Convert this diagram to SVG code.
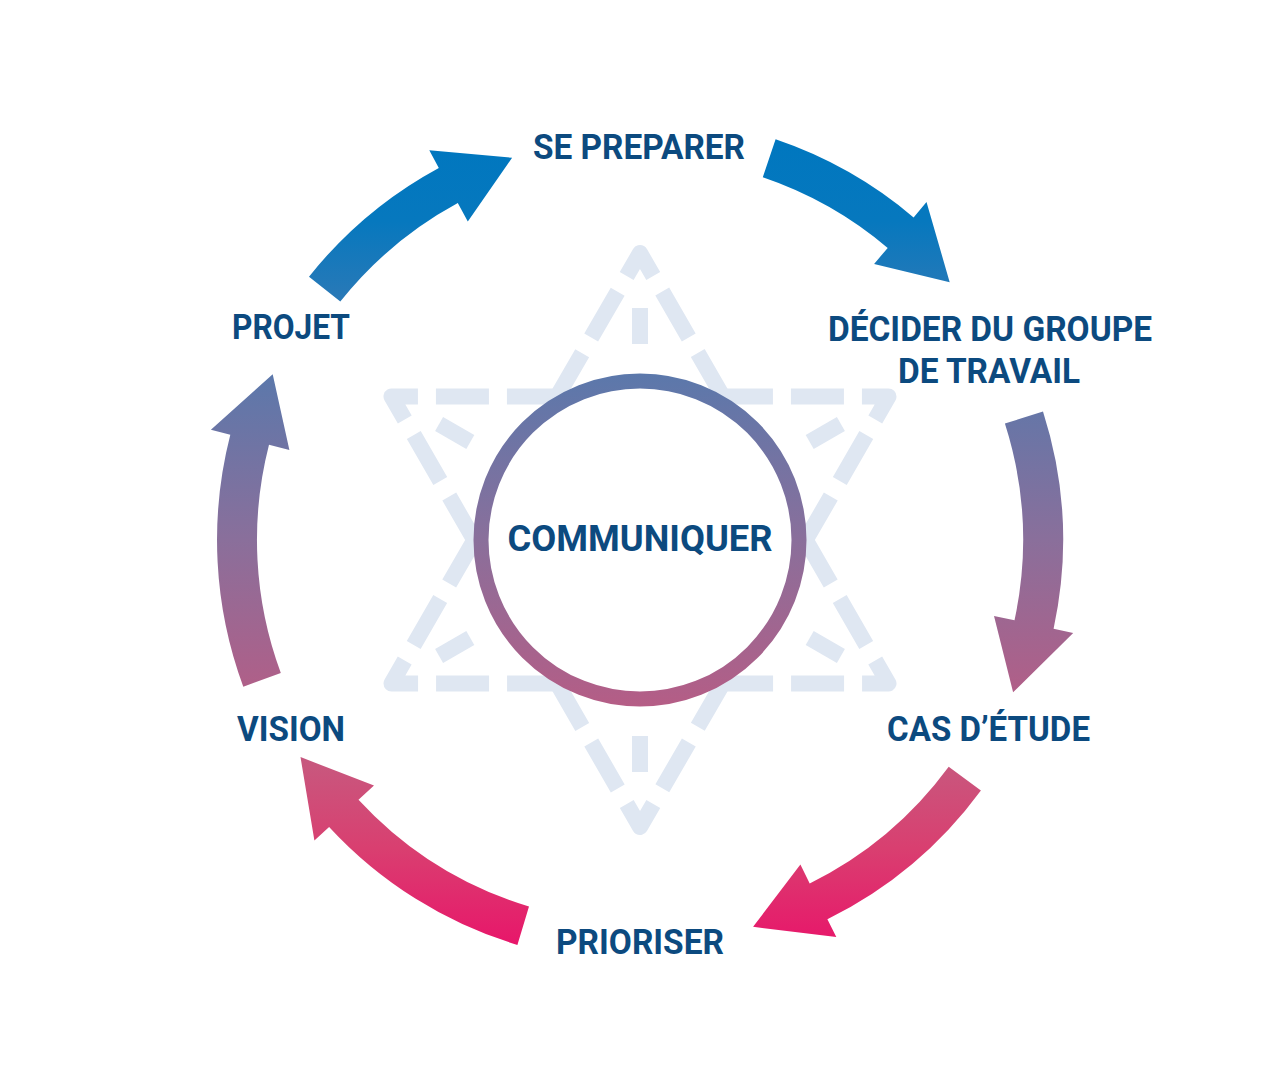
<svg xmlns="http://www.w3.org/2000/svg" width="1280" height="1080" viewBox="0 0 1280 1080">
  <defs>
    <linearGradient id="g" gradientUnits="userSpaceOnUse" x1="0" y1="140" x2="0" y2="945">
      <stop offset="0" stop-color="#0077bf"/>
      <stop offset="0.1" stop-color="#0678be"/>
      <stop offset="0.2" stop-color="#2a79b7"/>
      <stop offset="0.29" stop-color="#5b78ab"/>
      <stop offset="0.497" stop-color="#8a6f9b"/>
      <stop offset="0.683" stop-color="#b05f88"/>
      <stop offset="0.78" stop-color="#c9567d"/>
      <stop offset="0.88" stop-color="#d93f70"/>
      <stop offset="1" stop-color="#e8166a"/>
    </linearGradient>
    <style>
      .arrow { fill: url(#g); }
      .star { fill: none; stroke: #dfe7f2; stroke-width: 16; stroke-linejoin: round; stroke-dasharray: 53 18; stroke-dashoffset: 26.5; }
      .tick { stroke: #dfe7f2; stroke-width: 16; }
      .lbl { font-family: Roboto, "Liberation Sans", sans-serif; font-weight: 700; font-size: 35px; fill: #0c4a7f; text-anchor: middle; }
    </style>
  </defs>
  <rect width="1280" height="1080" fill="#ffffff"/>

  <g id="star">
    <path class="star" d="M640,253 L888.5,683.5 L391.5,683.5 Z"/>
    <path class="star" d="M640,827 L391.5,396.5 L888.5,396.5 Z"/>
    <line class="tick" x1="640" y1="308" x2="640" y2="344"/>
    <line class="tick" x1="840.9" y1="424" x2="809.7" y2="442"/>
    <line class="tick" x1="840.9" y1="656" x2="809.7" y2="638"/>
    <line class="tick" x1="640" y1="772" x2="640" y2="736"/>
    <line class="tick" x1="439.1" y1="656" x2="470.3" y2="638"/>
    <line class="tick" x1="439.1" y1="424" x2="470.3" y2="442"/>
  </g>

  <g id="connectors">
    <path class="arrow" d="M309.0,276.7 A423,423 0 0 1 438.8,167.9 L429.3,150.3 L512.1,157.8 L467.8,221.6 L457.8,203.1 A383,383 0 0 0 340.3,301.6 Z"/>
    <path class="arrow" d="M775.6,139.3 A423,423 0 0 1 913.6,217.4 L926.5,202.1 L949.7,282.2 L874.1,263.9 L887.7,247.9 A383,383 0 0 0 762.8,177.2 Z"/>
    <path class="arrow" d="M1043.0,411.4 A423,423 0 0 1 1053.6,628.7 L1073.2,632.9 L1013.1,692.3 L994.0,615.9 L1014.5,620.3 A383,383 0 0 0 1004.9,423.6 Z"/>
    <path class="arrow" d="M980.9,790.4 A423,423 0 0 1 827.4,919.2 L836.3,937.1 L753.1,926.8 L800.4,864.5 L809.7,883.4 A383,383 0 0 0 948.7,766.7 Z"/>
    <path class="arrow" d="M517.4,944.9 A423,423 0 0 1 329.1,826.9 L314.4,840.4 L300.5,757.1 L374.0,785.5 L358.5,799.8 A383,383 0 0 0 529.0,906.6 Z"/>
    <path class="arrow" d="M243.3,686.7 A423,423 0 0 1 230.3,434.8 L210.9,429.8 L272.7,374.2 L289.4,450.0 L269.0,444.7 A383,383 0 0 0 280.8,672.9 Z"/>
  </g>

  <g id="communiquer">
    <circle cx="640" cy="540" r="159" fill="#ffffff" stroke="url(#g)" stroke-width="15"/>
    <text class="lbl" x="640" y="551" style="font-size:37px" textLength="265" lengthAdjust="spacingAndGlyphs">COMMUNIQUER</text>
  </g>

  <g id="se-preparer">
    <text class="lbl" x="639" y="159" textLength="212" lengthAdjust="spacingAndGlyphs">SE PREPARER</text>
  </g>
  <g id="decider">
    <text class="lbl" x="990" y="341" textLength="324" lengthAdjust="spacingAndGlyphs">DÉCIDER DU GROUPE</text>
    <text class="lbl" x="989" y="383" textLength="182" lengthAdjust="spacingAndGlyphs">DE TRAVAIL</text>
  </g>
  <g id="cas-etude">
    <text class="lbl" x="988.5" y="741" textLength="203" lengthAdjust="spacingAndGlyphs">CAS D’ÉTUDE</text>
  </g>
  <g id="prioriser">
    <text class="lbl" x="640" y="954" textLength="168" lengthAdjust="spacingAndGlyphs">PRIORISER</text>
  </g>
  <g id="vision">
    <text class="lbl" x="291" y="741" textLength="108" lengthAdjust="spacingAndGlyphs">VISION</text>
  </g>
  <g id="projet">
    <text class="lbl" x="291" y="339" textLength="118" lengthAdjust="spacingAndGlyphs">PROJET</text>
  </g>
</svg>
